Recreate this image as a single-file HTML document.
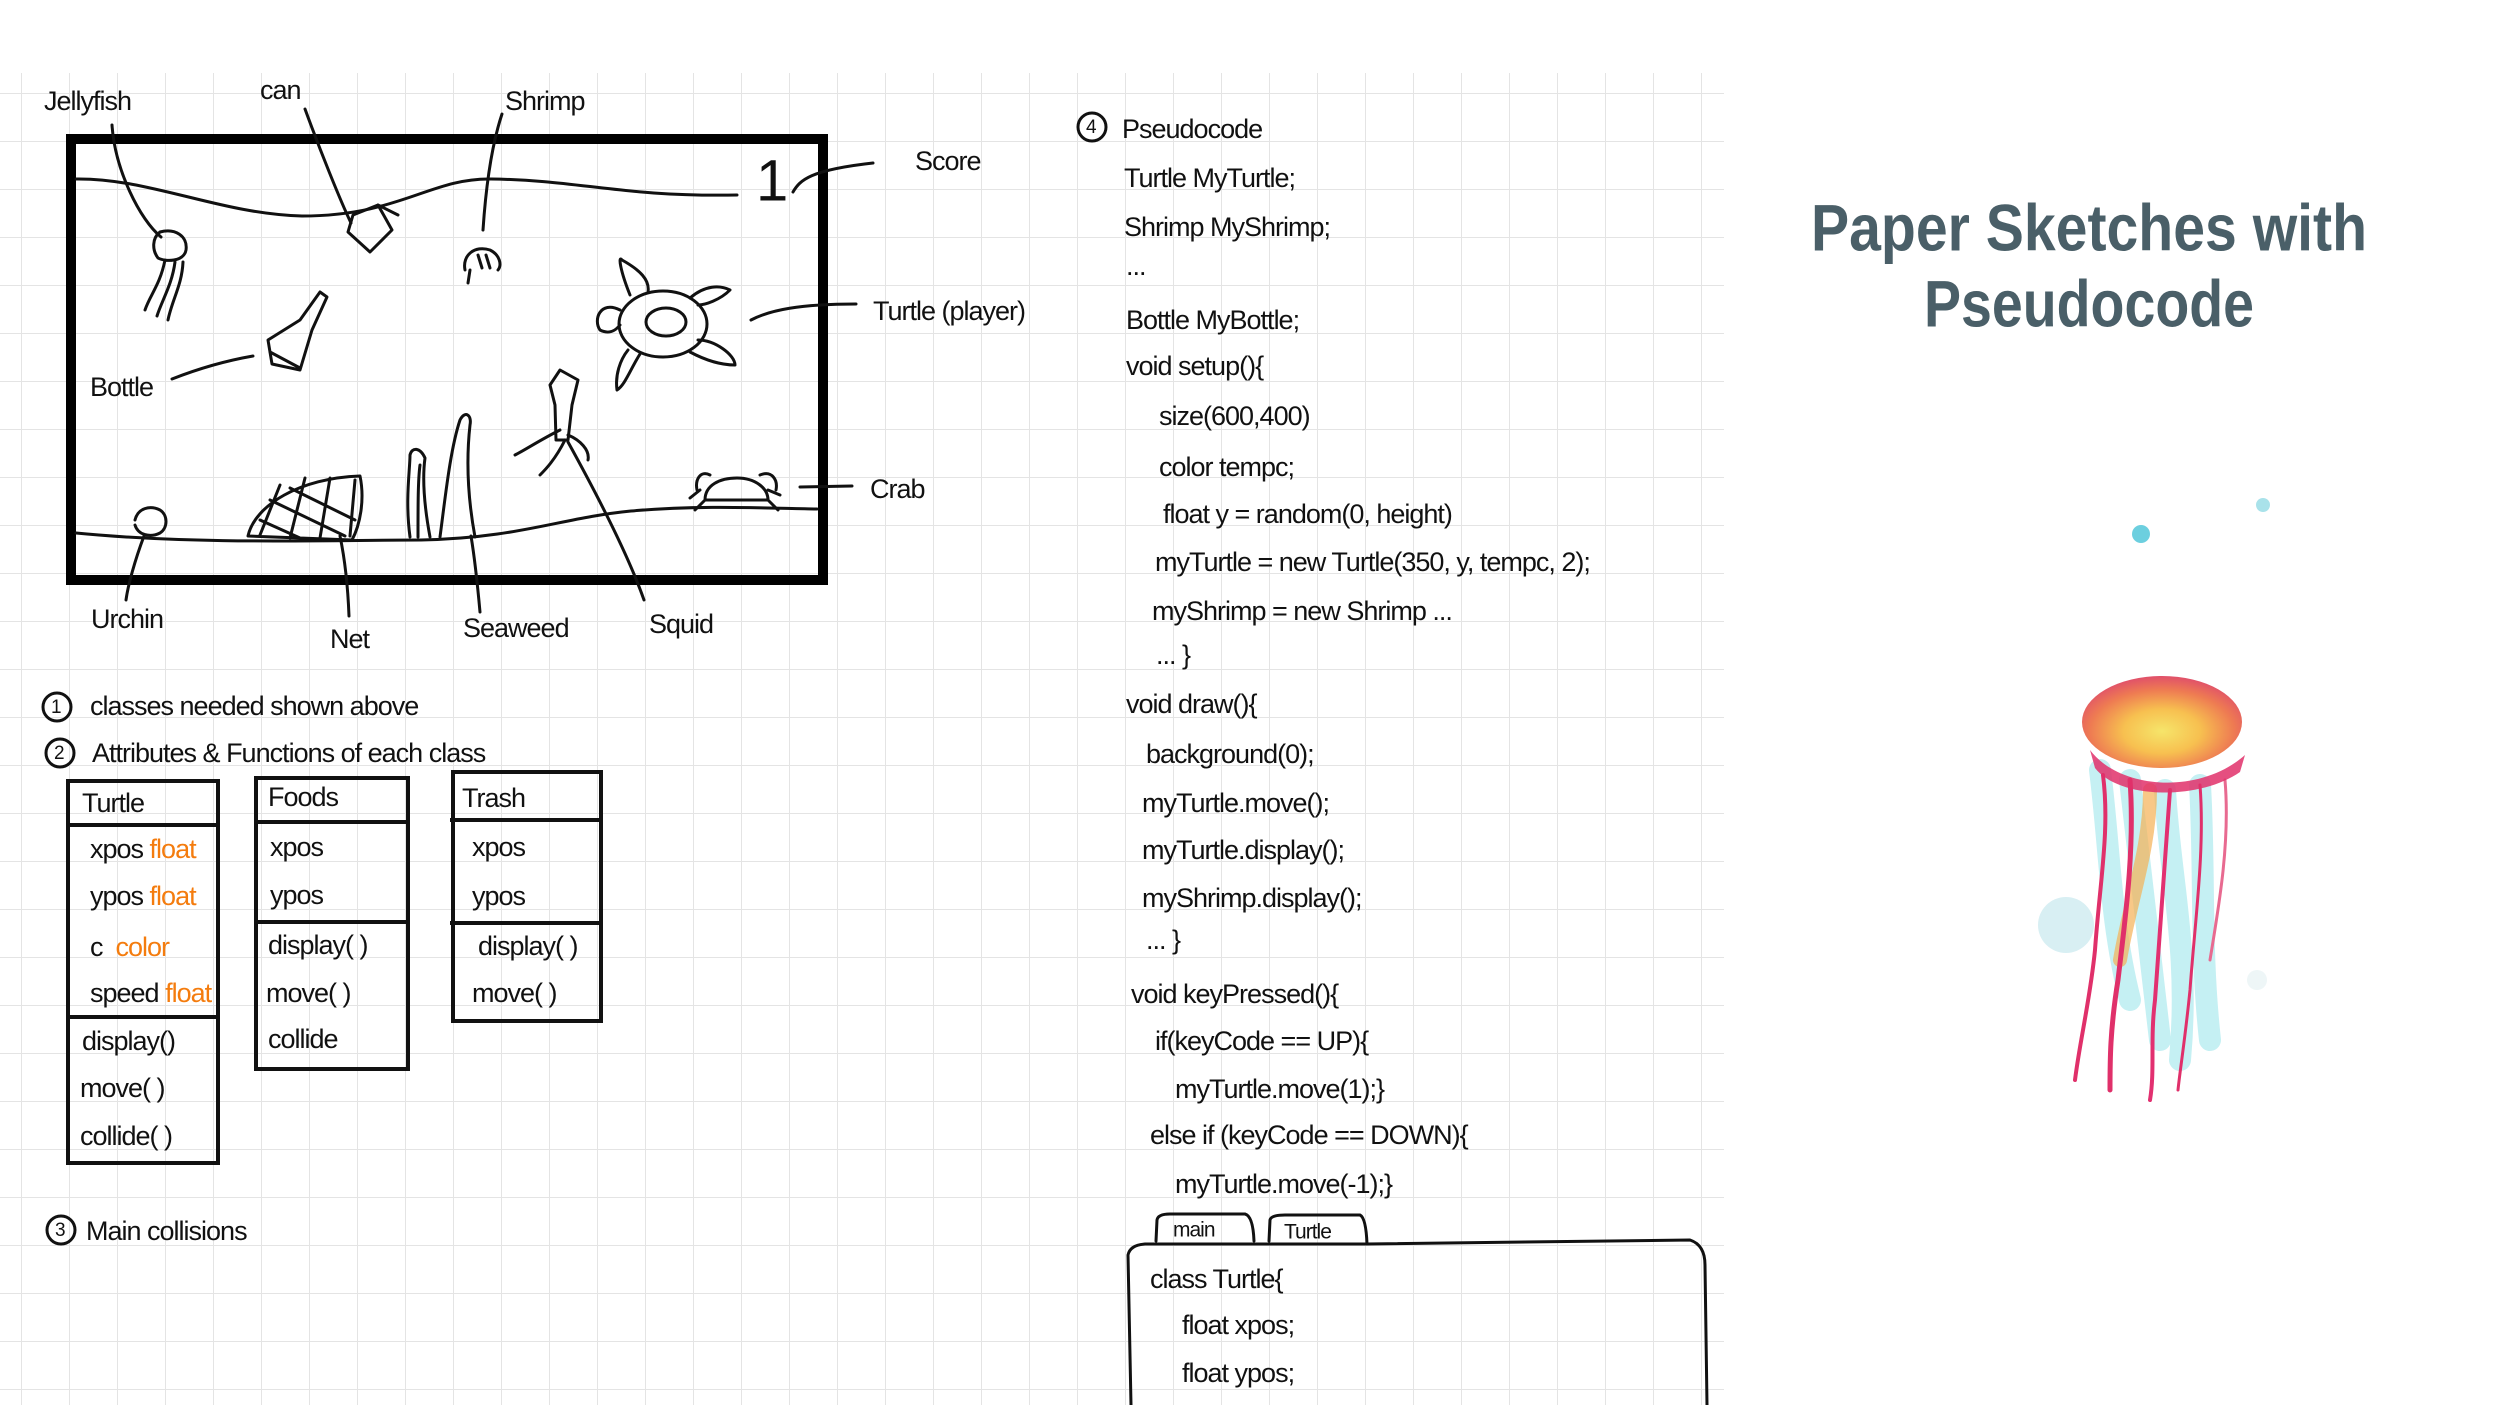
<!DOCTYPE html>
<html><head><meta charset="utf-8"><style>
html,body{margin:0;padding:0;background:#fff;}
svg{display:block;}
.t{font-family:"Liberation Sans",sans-serif;font-size:27px;fill:#111;letter-spacing:-1px;dominant-baseline:middle;}
.o{fill:#f47c0e;}
.ln{fill:none;stroke:#111;stroke-width:3;stroke-linecap:round;stroke-linejoin:round;}
</style></head><body>
<svg width="2500" height="1405" viewBox="0 0 2500 1405" xmlns="http://www.w3.org/2000/svg">
<defs>
<pattern id="g" x="21" y="45" width="48" height="48" patternUnits="userSpaceOnUse">
<path d="M0 0V48M0 0H48" stroke="#e4e4e4" stroke-width="2" fill="none"/>
</pattern>
<radialGradient id="bell" cx="50%" cy="60%" r="60%">
<stop offset="0" stop-color="#f6e56a"/><stop offset="0.4" stop-color="#f7c050"/><stop offset="0.75" stop-color="#ee7b52"/><stop offset="1" stop-color="#e0506a"/>
</radialGradient>
</defs>
<rect x="0" y="73" width="1724" height="1332" fill="url(#g)"/>

<!-- game box -->
<rect x="71" y="139" width="752" height="441" fill="none" stroke="#000" stroke-width="10"/>
<path class="ln" d="M76 179 C150 178 220 214 302 216 C400 216 430 178 491 179 C580 180 620 197 737 195"/>
<path class="ln" d="M76 533 C200 545 330 540 421 540 C520 538 560 518 631 511 C700 505 760 508 817 509"/>
<text x="756" y="185" style="font-family:'Liberation Sans',sans-serif;font-size:58px;dominant-baseline:middle;fill:#111">1</text>

<!-- leaders -->
<path class="ln" d="M112 125 C115 170 140 220 161 237"/>
<path class="ln" d="M305 109 C320 150 340 200 351 223"/>
<path class="ln" d="M502 114 C490 150 485 200 483 230"/>
<path class="ln" d="M793 192 C800 180 810 170 873 163"/>
<path class="ln" d="M172 379 C200 368 230 360 253 356"/>
<path class="ln" d="M751 320 C770 310 800 304 856 304"/>
<path class="ln" d="M568 442 C600 500 630 560 644 600"/>
<path class="ln" d="M471 536 C475 560 478 590 480 612"/>
<path class="ln" d="M340 536 C345 560 348 590 349 616"/>
<path class="ln" d="M144 536 C135 560 128 585 126 600"/>
<path class="ln" d="M800 487 L852 486"/>

<!-- small drawings -->
<path class="ln" d="M160 232 C175 228 188 236 186 250 C184 262 165 262 158 258 C152 250 152 238 160 232 Z M165 260 C160 285 150 295 145 310 M175 262 C172 285 162 300 157 316 M183 262 C182 285 172 300 168 320"/>
<path class="ln" d="M353 215 L378 205 L392 230 L370 252 L348 232 Z M378 205 L398 215"/>
<path class="ln" d="M465 270 C462 255 475 245 490 250 C500 255 502 265 498 270 M470 270 L468 283 M478 255 L482 268 M486 255 L490 268"/>
<path class="ln" d="M320 292 L327 297 L312 330 L300 370 L272 364 L268 340 L300 320 Z M270 352 L300 368"/>
<ellipse class="ln" cx="663" cy="324" rx="44" ry="33"/>
<ellipse class="ln" cx="666" cy="322" rx="20" ry="14"/>
<path class="ln" d="M620 310 C600 300 593 320 600 330 C610 335 616 330 620 325 M630 295 C620 270 618 255 622 260 C640 270 650 280 648 292 M690 298 C705 285 720 285 730 290 C720 300 705 305 698 305 M698 340 C715 340 735 355 735 365 C720 365 705 360 690 352 M640 354 C630 370 625 385 617 390 C615 375 620 360 628 350"/>
<path class="ln" d="M560 370 L578 380 L572 405 L568 440 L556 440 L555 405 L550 385 Z M560 430 C540 440 525 450 515 455 M565 440 C555 460 545 470 540 475 M568 435 C580 440 590 450 588 460"/>
<path class="ln" d="M410 537 C405 500 410 470 410 455 C412 447 420 447 425 458 C422 480 425 510 430 537 M440 537 C445 500 450 450 460 420 C465 410 472 415 470 425 C465 470 470 510 475 537 M418 537 C418 505 418 480 420 465"/>
<path class="ln" d="M248 536 C255 505 300 478 360 476 C365 500 360 525 352 540 Z M270 500 L345 536 M290 488 L355 520 M260 520 L300 538 M280 485 L260 535 M305 478 L290 538 M330 478 L320 538 M355 480 L350 536"/>
<path class="ln" d="M135 520 C138 508 150 505 160 510 C168 515 168 528 160 533 C150 538 138 535 135 525"/>
<path class="ln" d="M705 500 C705 485 720 478 737 478 C755 478 768 488 768 500 Z M705 500 L695 510 M700 490 L690 498 M768 500 L778 510 M768 490 L780 495 M710 475 C700 470 695 480 697 490 M760 475 C772 470 778 480 776 490"/>

<!-- labels -->
<text class="t" x="44" y="103">Jellyfish</text>
<text class="t" x="260" y="92">can</text>
<text class="t" x="505" y="103">Shrimp</text>
<text class="t" x="915" y="163">Score</text>
<text class="t" x="873" y="313">Turtle (player)</text>
<text class="t" x="90" y="389">Bottle</text>
<text class="t" x="870" y="491">Crab</text>
<text class="t" x="91" y="621">Urchin</text>
<text class="t" x="330" y="641">Net</text>
<text class="t" x="463" y="630">Seaweed</text>
<text class="t" x="649" y="626">Squid</text>

<!-- numbered -->
<circle cx="57" cy="707" r="14" class="ln" stroke-width="2.5"/><text class="t" x="51" y="708" style="font-size:19px">1</text>
<text class="t" x="90" y="708">classes needed shown above</text>
<circle cx="60" cy="753" r="14" class="ln" stroke-width="2.5"/><text class="t" x="54" y="754" style="font-size:19px">2</text>
<text class="t" x="92" y="755">Attributes &amp; Functions of each class</text>
<circle cx="61" cy="1230" r="14" class="ln" stroke-width="2.5"/><text class="t" x="55" y="1231" style="font-size:19px">3</text>
<text class="t" x="86" y="1233">Main collisions</text>

<!-- tables -->
<g fill="none" stroke="#111" stroke-width="4">
<rect x="68" y="781" width="150" height="382"/><path d="M68 825H216M68 1017H218"/>
<rect x="256" y="778" width="152" height="291"/><path d="M258 822H406M254 922H410"/>
<rect x="453" y="772" width="148" height="249"/><path d="M450 820H601M450 923H601"/>
</g>
<text class="t" x="82" y="805">Turtle</text>
<text class="t" x="90" y="851">xpos <tspan class="o">float</tspan></text>
<text class="t" x="90" y="898">ypos <tspan class="o">float</tspan></text>
<text class="t" x="90" y="949">c&#160;&#160;<tspan class="o">color</tspan></text>
<text class="t" x="90" y="995">speed <tspan class="o">float</tspan></text>
<text class="t" x="82" y="1043">display()</text>
<text class="t" x="80" y="1090">move( )</text>
<text class="t" x="80" y="1138">collide( )</text>
<text class="t" x="268" y="799">Foods</text>
<text class="t" x="270" y="849">xpos</text>
<text class="t" x="270" y="897">ypos</text>
<text class="t" x="268" y="947">display( )</text>
<text class="t" x="266" y="995">move( )</text>
<text class="t" x="268" y="1041">collide</text>
<text class="t" x="462" y="800">Trash</text>
<text class="t" x="472" y="849">xpos</text>
<text class="t" x="472" y="898">ypos</text>
<text class="t" x="478" y="948">display( )</text>
<text class="t" x="472" y="995">move( )</text>

<!-- pseudocode -->
<circle cx="1092" cy="127" r="14" class="ln" stroke-width="2.5"/><text class="t" x="1086" y="128" style="font-size:19px">4</text>
<text class="t" x="1122" y="131">Pseudocode</text>
<g class="t">
<text class="t" x="1124" y="180">Turtle MyTurtle;</text>
<text class="t" x="1124" y="229">Shrimp MyShrimp;</text>
<text class="t" x="1126" y="268">...</text>
<text class="t" x="1126" y="322">Bottle MyBottle;</text>
<text class="t" x="1126" y="368">void setup(){</text>
<text class="t" x="1159" y="418">size(600,400)</text>
<text class="t" x="1159" y="469">color tempc;</text>
<text class="t" x="1163" y="516">float y = random(0, height)</text>
<text class="t" x="1155" y="564">myTurtle = new Turtle(350, y, tempc, 2);</text>
<text class="t" x="1152" y="613">myShrimp = new Shrimp ...</text>
<text class="t" x="1156" y="657">... }</text>
<text class="t" x="1126" y="706">void draw(){</text>
<text class="t" x="1146" y="756">background(0);</text>
<text class="t" x="1142" y="805">myTurtle.move();</text>
<text class="t" x="1142" y="852">myTurtle.display();</text>
<text class="t" x="1142" y="900">myShrimp.display();</text>
<text class="t" x="1146" y="942">... }</text>
<text class="t" x="1131" y="996">void keyPressed(){</text>
<text class="t" x="1155" y="1043">if(keyCode == UP){</text>
<text class="t" x="1175" y="1091">myTurtle.move(1);}</text>
<text class="t" x="1150" y="1137">else if (keyCode == DOWN){</text>
<text class="t" x="1175" y="1186">myTurtle.move(-1);}</text>
</g>
<path class="ln" d="M1156 1241 L1157 1220 Q1158 1214 1170 1214 L1245 1214 Q1253 1216 1254 1241 M1269 1241 L1270 1220 Q1271 1215 1285 1215 L1360 1215 Q1366 1218 1367 1244 L1690 1240 Q1705 1245 1705 1265 L1707 1405 M1131 1405 L1128 1255 Q1130 1245 1145 1244 L1367 1244"/>
<text class="t" x="1173" y="1231" style="font-size:21px">main</text>
<text class="t" x="1284" y="1233" style="font-size:21px">Turtle</text>
<text class="t" x="1150" y="1281">class Turtle{</text>
<text class="t" x="1182" y="1327">float xpos;</text>
<text class="t" x="1182" y="1375">float ypos;</text>

<!-- title -->
<text x="2089" y="233" text-anchor="middle" style="font-family:'Liberation Sans',sans-serif;font-weight:bold;font-size:66px;fill:#4a5f68;dominant-baseline:middle" textLength="556" lengthAdjust="spacingAndGlyphs">Paper Sketches with</text>
<text x="2089" y="309" text-anchor="middle" style="font-family:'Liberation Sans',sans-serif;font-weight:bold;font-size:66px;fill:#4a5f68;dominant-baseline:middle" textLength="330" lengthAdjust="spacingAndGlyphs">Pseudocode</text>

<!-- dots -->
<circle cx="2141" cy="534" r="9" fill="#6ccfdf"/>
<circle cx="2263" cy="505" r="7" fill="#a9e2ea"/>
<circle cx="2066" cy="925" r="28" fill="#d8eff3"/>
<circle cx="2257" cy="980" r="10" fill="#eef6f7"/>

<!-- jellyfish -->
<g fill="none" stroke-linecap="round">
<path d="M2100 770 C2110 850 2110 920 2130 1000 M2130 780 C2140 860 2150 950 2160 1040 M2165 790 C2170 880 2190 950 2180 1060 M2200 785 C2205 870 2200 950 2210 1040" stroke="#bfeef2" stroke-width="22" opacity="0.9"/>
<path d="M2150 790 C2150 850 2130 900 2120 960" stroke="#f5b054" stroke-width="14" opacity="0.7"/>
<path d="M2103 775 C2110 830 2100 880 2095 950 C2090 1000 2080 1040 2075 1080" stroke="#e0306a" stroke-width="4"/>
<path d="M2130 780 C2135 850 2125 920 2118 980 C2110 1030 2110 1060 2110 1090" stroke="#e0306a" stroke-width="5"/>
<path d="M2170 790 C2165 860 2160 930 2155 1000 C2150 1040 2155 1070 2150 1100" stroke="#e23070" stroke-width="4"/>
<path d="M2200 785 C2205 850 2195 920 2190 990 C2185 1040 2180 1070 2178 1090" stroke="#e0306a" stroke-width="3"/>
<path d="M2225 780 C2230 840 2220 900 2210 960" stroke="#e86a90" stroke-width="3"/>
</g>
<ellipse cx="2162" cy="722" rx="80" ry="46" fill="url(#bell)"/>
<path d="M2090 750 C2120 790 2200 795 2245 755 L2240 772 C2200 800 2120 800 2095 768 Z" fill="#e0306a" opacity="0.85"/>
</svg>
</body></html>
